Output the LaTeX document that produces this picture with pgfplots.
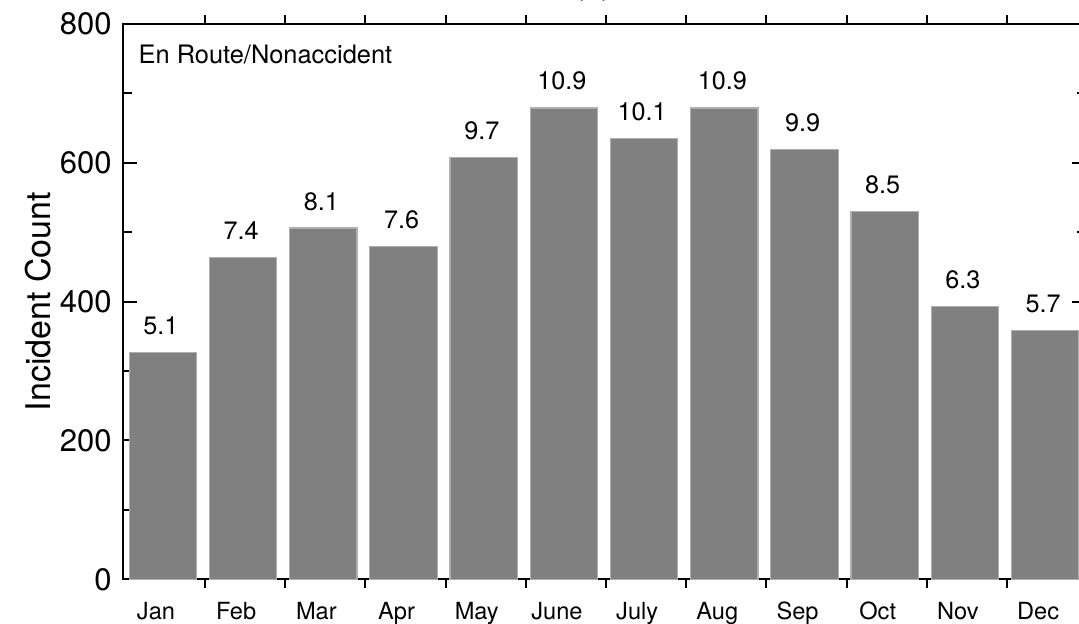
\documentclass[border=0pt]{standalone}
\usepackage{pgfplots}
\pgfplotsset{compat=1.18}
\usepackage{fontspec}
\setmainfont{TeX Gyre Heros}
\definecolor{barfill}{RGB}{128,128,128}
\definecolor{baredge}{RGB}{175,175,175}

\pgfplotstableread{
x  count label
0  327  5.1
1  464  7.4
2  506  8.1
3  479  7.6
4  608  9.7
5  679  10.9
6  635  10.1
7  679  10.9
8  619  9.9
9  530  8.5
10 393  6.3
11 358  5.7
}\monthdata

\begin{document}
\begin{tikzpicture}
\begin{axis}[
  scale only axis, width=481.35pt, height=277.65pt,
  xmin=-0.495, xmax=11.51, ymin=0, ymax=800,
  axis line style={line width=1.2pt},
  tick style={line width=1pt, black},
  major tick length=7pt, minor tick length=4.3pt,
  xtick={0,...,11},
  xticklabels={Jan,Feb,Mar,Apr,May,June,July,Aug,Sep,Oct,Nov,Dec},
  major x tick style={draw=none},
  minor xtick={0.524,1.524,2.524,3.524,4.524,5.524,6.524,7.524,8.524,9.524,10.524},
  ytick={0,200,400,600,800},
  minor ytick={100,300,500,700},
  xticklabel style={font=\fontsize{11.8}{13}\selectfont, yshift=-1pt, xshift=-3.5pt},
  yticklabel style={font=\fontsize{15.5}{17}\selectfont, xshift=-2.3pt},
  /pgf/number format/assume math mode=true,
  every axis y label/.style={at={(axis description cs:-0.0886,0.5)}, rotate=90, anchor=center},
  ylabel={\fontsize{17}{19}\selectfont Incident Count},
  ybar, bar width=0.84,
  nodes near coords,
  point meta=explicit symbolic,
  nodes near coords style={anchor=south, inner sep=0pt, yshift=8.5pt, xshift=-1pt,
    font=\fontsize{12.6}{14}\selectfont, black},
  clip=false,
]
\addplot[fill=barfill, draw=baredge, line width=0.6pt]
  table[x=x, y=count, meta=label] {\monthdata};
\node[anchor=north west, inner sep=0pt, font=\fontsize{12.7}{14}\selectfont]
  at ([xshift=7.5pt, yshift=-10.5pt]rel axis cs:0,1) {En Route/Nonaccident};
\node[anchor=base, inner sep=0pt, font=\fontsize{15.5}{17}\selectfont]
  at ([yshift=14.6pt]axis cs:5.36,800) {(a)};
\coordinate (bl) at (rel axis cs:0,0);
\coordinate (tr) at (rel axis cs:1,1);
\end{axis}
\pgfresetboundingbox
\path[use as bounding box] ([xshift=-61.65pt, yshift=-22pt]bl) rectangle ([xshift=-3.5pt, yshift=12pt]tr);
\end{tikzpicture}
\end{document}
